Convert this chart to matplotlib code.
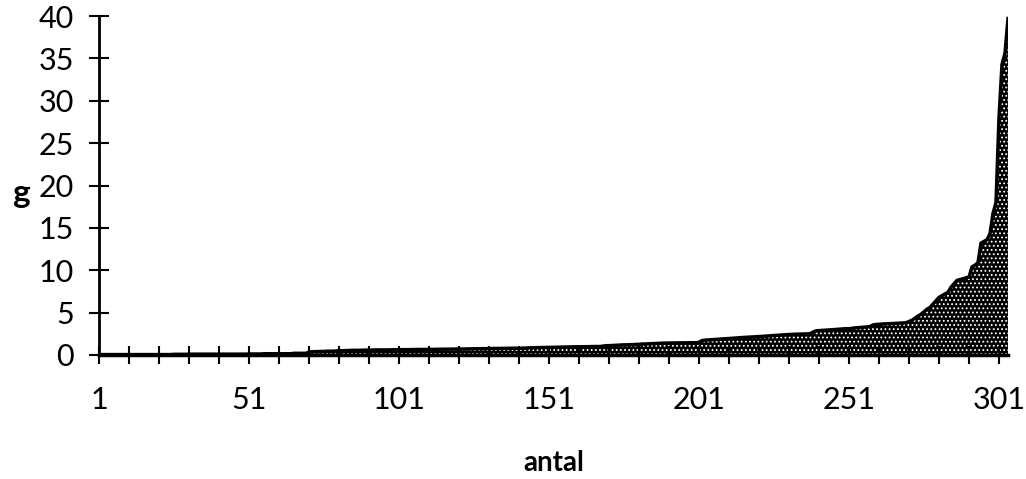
import numpy as np
import matplotlib
matplotlib.use('Agg')
import matplotlib.pyplot as plt

# sorterte vekter (g), ca. 304 stk
vekt = [
    0.05, 0.05, 0.05, 0.05, 0.05, 0.05, 0.05, 0.05, 0.05, 0.05,
    0.05, 0.05, 0.05, 0.05, 0.05, 0.05, 0.05, 0.05, 0.05, 0.05,
    0.05, 0.05, 0.05, 0.05, 0.05, 0.08, 0.08, 0.08, 0.08, 0.08,
    0.1, 0.1, 0.1, 0.1, 0.1, 0.1, 0.1, 0.1, 0.1, 0.1,
    0.1, 0.1, 0.1, 0.1, 0.1, 0.1, 0.1, 0.1, 0.1, 0.1,
    0.12, 0.12, 0.12, 0.12, 0.12, 0.15, 0.15, 0.15, 0.15, 0.15,
    0.15, 0.15, 0.15, 0.15, 0.15, 0.2, 0.2, 0.2, 0.2, 0.2,
    0.35, 0.38, 0.4, 0.4, 0.42, 0.42, 0.45, 0.45, 0.45, 0.48,
    0.5, 0.5, 0.52, 0.52, 0.55, 0.55, 0.55, 0.55, 0.57, 0.57,
    0.58, 0.58, 0.6, 0.6, 0.6, 0.6, 0.6, 0.6, 0.62, 0.62,
    0.62, 0.62, 0.63, 0.63, 0.64, 0.64, 0.65, 0.65, 0.65, 0.65,
    0.66, 0.66, 0.67, 0.67, 0.68, 0.68, 0.69, 0.69, 0.7, 0.7,
    0.7, 0.7, 0.71, 0.72, 0.72, 0.73, 0.74, 0.74, 0.75, 0.75,
    0.76, 0.76, 0.77, 0.77, 0.78, 0.78, 0.79, 0.79, 0.8, 0.8,
    0.8, 0.8, 0.82, 0.84, 0.85, 0.86, 0.87, 0.88, 0.88, 0.89,
    0.9, 0.9, 0.91, 0.92, 0.93, 0.94, 0.95, 0.95, 0.96, 0.96,
    0.97, 0.97, 0.98, 0.98, 0.99, 1.0, 1.0, 1.0, 1.05, 1.1,
    1.1, 1.12, 1.15, 1.15, 1.18, 1.2, 1.2, 1.22, 1.22, 1.25,
    1.25, 1.3, 1.3, 1.32, 1.34, 1.35, 1.36, 1.38, 1.4, 1.4,
    1.41, 1.42, 1.42, 1.43, 1.43, 1.44, 1.44, 1.45, 1.45, 1.45,
    1.5, 1.7, 1.75, 1.78, 1.8, 1.82, 1.85, 1.88, 1.9, 1.92,
    1.95, 1.97, 2.0, 2.02, 2.05, 2.07, 2.1, 2.1, 2.12, 2.15,
    2.18, 2.2, 2.22, 2.25, 2.27, 2.3, 2.32, 2.35, 2.37, 2.4,
    2.42, 2.44, 2.45, 2.46, 2.47, 2.48, 2.5, 2.5, 2.7, 2.85,
    2.88, 2.9, 2.92, 2.95, 2.97, 3.0, 3.02, 3.05, 3.08, 3.1,
    3.1, 3.15, 3.2, 3.22, 3.25, 3.28, 3.3, 3.35, 3.55, 3.6,
    3.62, 3.65, 3.68, 3.7, 3.7, 3.72, 3.75, 3.75, 3.78, 3.8,
    3.95, 4.1, 4.35, 4.6, 4.8, 5.1, 5.4, 5.6, 6.0, 6.4,
    6.8, 7.0, 7.2, 7.4, 8.0, 8.4, 8.8, 8.9, 9.0, 9.1,
    9.2, 10.4, 10.6, 10.9, 13.2, 13.4, 13.6, 14.3, 16.7, 18.0,
    28.0, 34.3, 35.6, 39.7,
]
xticks_pos = list(range(1, 302, 10))
xtick_labels = ['1', '51', '101', '151', '201', '251', '301']
yticks_pos = [0, 5, 10, 15, 20, 25, 30, 35, 40]

plt.rcParams['font.family'] = ['Lato', 'DejaVu Sans']
plt.rcParams['hatch.linewidth'] = 0.8

antal = np.arange(1, len(vekt) + 1)
vekt = np.array(vekt)

fig = plt.figure(figsize=(10.26, 4.79), dpi=100)
ax = fig.add_axes([99/1026, 124/479, (1008-99)/1026, (355-16)/479])

ax.fill_between(antal, 0, vekt, facecolor='black', edgecolor='white',
                hatch='....', linewidth=0)
ax.plot(antal, vekt, color='black', lw=2.5)

ax.set_xlim(1, len(vekt))
ax.set_ylim(0, 40)

labs = []
for t in xticks_pos:
    labs.append(str(t) if str(t) in xtick_labels else '')
ax.set_xticks(xticks_pos)
ax.set_xticklabels(labs)
ax.set_yticks(yticks_pos)

ax.spines['top'].set_visible(False)
ax.spines['right'].set_visible(False)
ax.spines['left'].set_linewidth(2)
ax.spines['bottom'].set_linewidth(2.5)
ax.tick_params(axis='y', direction='inout', length=14, width=1.5, labelsize=22, pad=11)
ax.tick_params(axis='x', direction='inout', length=13, width=1.5, labelsize=22, pad=16)

ax.set_xlabel('antal', fontsize=20, fontweight='bold', labelpad=26)
fig.text(12/1026, 1 - 193/479, 'g', fontsize=24, fontweight='bold', va='center', ha='left')

fig.savefig('out.png', dpi=100)
